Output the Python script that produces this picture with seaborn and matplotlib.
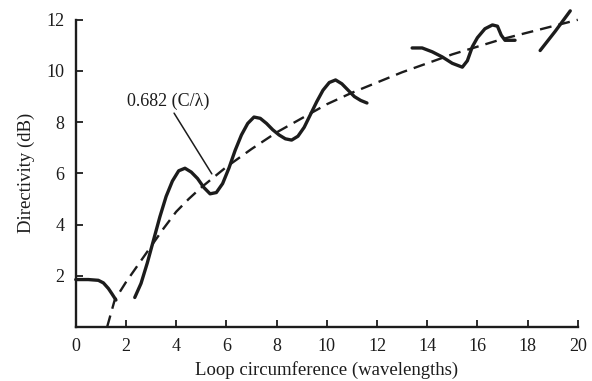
import matplotlib
matplotlib.use("Agg")
import matplotlib.pyplot as plt
import pandas as pd
import seaborn as sns

# measured directivity, drawn as separate pieces (gaps as in the scan)
seg1_c = [0.0, 0.5, 0.9, 1.1, 1.3, 1.45, 1.6]
seg1_d = [1.85, 1.85, 1.82, 1.72, 1.5, 1.28, 1.05]

seg2_c = [2.35, 2.6, 2.85, 3.1, 3.35, 3.6, 3.85, 4.1, 4.35, 4.6, 4.85, 5.1,
          5.35, 5.6, 5.85, 6.1, 6.35, 6.6, 6.85, 7.1, 7.35, 7.6, 7.85, 8.1,
          8.35, 8.6, 8.85, 9.1, 9.35, 9.6, 9.85, 10.1, 10.35, 10.6, 10.85,
          11.1, 11.35, 11.6]
seg2_d = [1.15, 1.7, 2.5, 3.4, 4.3, 5.1, 5.7, 6.1, 6.2, 6.05, 5.8, 5.45,
          5.2, 5.25, 5.6, 6.2, 6.9, 7.5, 7.95, 8.2, 8.15, 7.95, 7.7, 7.5,
          7.35, 7.3, 7.45, 7.8, 8.3, 8.8, 9.25, 9.55, 9.65, 9.5, 9.25,
          9.0, 8.85, 8.75]

seg3_c = [13.4, 13.8, 14.2, 14.6, 15.0, 15.4, 15.6, 15.8, 16.0, 16.3, 16.6,
          16.8, 16.95, 17.1, 17.5]
seg3_d = [10.9, 10.9, 10.75, 10.55, 10.3, 10.15, 10.4, 10.95, 11.3, 11.65,
          11.8, 11.75, 11.4, 11.2, 11.2]

seg4_c = [18.5, 19.1, 19.7]
seg4_d = [10.8, 11.55, 12.35]

# approximation 0.682 (C/lambda)
fit_c = [1.25, 1.55, 2.0, 2.5, 3.0, 3.5, 4.0, 4.5, 5.0, 5.5, 6.0, 7.0, 8.0,
         9.0, 10.0, 11.0, 12.0, 13.0, 14.0, 15.0, 16.0, 17.0, 18.0, 19.0, 20.0]
fit_d = [0.0, 1.05, 1.75, 2.45, 3.15, 3.85, 4.5, 5.0, 5.45, 5.85, 6.25, 6.95,
         7.6, 8.15, 8.7, 9.15, 9.55, 9.95, 10.3, 10.65, 10.95, 11.25, 11.5,
         11.75, 12.0]

x_ticks = [0, 2, 4, 6, 8, 10, 12, 14, 16, 18, 20]
y_ticks = [2, 4, 6, 8, 10, 12]

frames = []
for i, (c, d) in enumerate([(seg1_c, seg1_d), (seg2_c, seg2_d),
                            (seg3_c, seg3_d), (seg4_c, seg4_d)]):
    frames.append(pd.DataFrame({"C": c, "D": d, "segment": i}))
measured = pd.concat(frames, ignore_index=True)

sns.set_theme(style="ticks")
plt.rcParams["font.family"] = ["Liberation Serif", "DejaVu Serif"]

ink = "#1c1c1c"
fig = plt.figure(figsize=(5.92, 3.81), dpi=100)
ax = fig.add_axes([0.128, 0.142, 0.848, 0.806])

sns.lineplot(data=measured, x="C", y="D", units="segment", estimator=None,
             sort=False, color=ink, lw=2.4, clip_on=False, ax=ax)
sns.lineplot(x=fit_c, y=fit_d, color=ink, lw=1.7, linestyle=(0, (5, 3)),
             clip_on=False, ax=ax)

ax.annotate("0.682 (C/\u03bb)", xy=(5.42, 5.98), xytext=(2.03, 8.82),
            fontsize=13, color=ink, va="center", ha="left",
            arrowprops=dict(arrowstyle="-", color=ink, lw=1.1,
                            shrinkA=0, shrinkB=0,
                            relpos=(0.55, 0.0)))

ax.set_xlim(0, 20)
ax.set_ylim(0, 12)
ax.set_xticks(x_ticks)
ax.set_yticks(y_ticks)
ax.tick_params(direction="in", length=5, width=1.3, colors=ink,
               labelsize=13, pad=8)
ax.set_xlabel("Loop circumference (wavelengths)", fontsize=13.5, color=ink,
              labelpad=4)
ax.set_ylabel("Directivity (dB)", fontsize=13.5, color=ink, labelpad=8)
sns.despine(ax=ax)
for side in ["left", "bottom"]:
    ax.spines[side].set_linewidth(1.7)
    ax.spines[side].set_color(ink)

fig.savefig("out.png", dpi=100)
